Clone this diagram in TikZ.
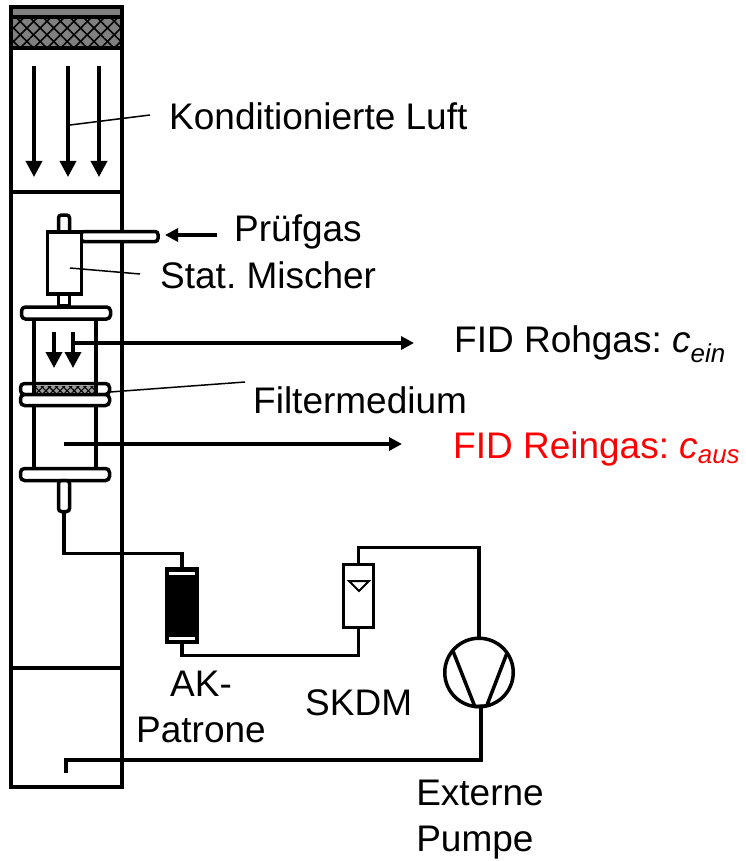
\documentclass[tikz,border=0pt]{standalone}
\usepackage{fontspec}
\setmainfont{Liberation Sans}
\usetikzlibrary{arrows.meta,patterns.meta}
\frenchspacing
\begin{document}
\begin{tikzpicture}[
    x=1pt, y=-1pt,
    wall/.style={draw, line width=4pt, inner sep=0pt, outer sep=0pt},
    part/.style={draw, line width=3.5pt, fill=white, inner sep=0pt, outer sep=0pt},
    flange/.style={part, rounded corners=4pt, minimum width=89pt},
    stub/.style={part, rounded corners=3pt, minimum width=11pt},
    coarsebed/.style={preaction={fill=gray}, preaction={pattern={Lines[angle=45,distance=9.5pt,line width=1.6pt]}}, pattern={Lines[angle=-45,distance=9.5pt,line width=1.6pt]}},
    finebed/.style={preaction={fill=gray!80}, preaction={pattern={Lines[angle=45,distance=5pt,line width=1.1pt]}}, pattern={Lines[angle=-45,distance=5pt,line width=1.1pt]}},
    pipe/.style={line width=3.5pt, line join=miter},
    leader/.style={line width=1.5pt},
    flow/.style={line width=3.5pt, -{Triangle[width=16pt,length=16pt]}},
    tap/.style={line width=3.5pt, -{Triangle[width=13pt,length=13pt]}},
    txt/.style={inner sep=0pt, font=\fontsize{37}{46}\selectfont}
]
\useasboundingbox (0,0) rectangle (745,861);

% Saeule
\node[wall, minimum width=111pt, minimum height=780pt] (column) at (66.5,397) {};
\node[wall, fill=gray, minimum width=111pt, minimum height=10pt] (lid) at (66.5,12) {};
\node[wall, coarsebed, minimum width=111pt, minimum height=31pt] (coarse) at (66.5,32.5) {};
\draw[wall] (column.west |- 0,192) -- (column.east |- 0,192);
\draw[wall] (column.west |- 0,668) -- (column.east |- 0,668);

% Luftstrom
\foreach \i/\x in {1/34,2/68,3/99} {
    \coordinate (air\i) at (\x,66);
    \coordinate (airend\i) at (\x,177);
    \draw[flow] (air\i) -- (airend\i);
}

% Mischer
\node[stub, minimum height=20pt] (mixtop) at (64,225) {};
\node[part, minimum width=77pt, minimum height=10pt, rounded corners=3pt] (feed) at (119.5,236.5) {};
\node[part, minimum width=34pt, minimum height=62pt] (mixer) at (64.5,263) {};
\node[part, minimum width=11pt, minimum height=12pt] (neck) at (64,300) {};

% Filterhalter
\draw[pipe] (34,320) -- (34,468) (96,320) -- (96,468);
\node[flange, minimum height=12pt] (flangetop) at (66,313) {};
\node[flange, minimum height=11pt] (flangeup) at (65,389) {};
\node[flange, minimum height=11pt] (flangelow) at (65,400) {};
\node[flange, minimum height=12pt] (flangeend) at (65,474.5) {};
\node[stub, minimum height=31pt] (outlet) at (64,496) {};
\node[inner sep=0pt, outer sep=0pt, finebed, minimum width=60pt, minimum height=7pt] (filter) at (65,389.5) {};
\draw[pipe] (34,383) -- (34,395) (96,383) -- (96,395);
\foreach \i/\x in {1/54,2/73} {
    \coordinate (gas\i) at (\x,332);
    \coordinate (gasend\i) at (\x,368);
    \draw[flow] (gas\i) -- (gasend\i);
}

% AK-Patrone, SKDM, Pumpe
\node[part, fill=black, minimum width=31pt, minimum height=74pt] (carbon) at (182,605.5) {};
\node[fill=white, inner sep=0pt, minimum width=26pt, minimum height=3pt] (carbontop) at (182,573) {};
\node[fill=white, inner sep=0pt, minimum width=26pt, minimum height=3pt] (carbonlow) at (182,638) {};
\node[part, minimum width=30pt, minimum height=63pt] (skdm) at (358.5,596) {};
\draw[line width=2pt, line join=miter] (349,581) -- (369,581) -- (359,591) -- cycle;
\node[draw, circle, line width=3.5pt, inner sep=0pt, outer sep=0pt, minimum size=68.5pt] (pump) at (479,672.5) {};
\draw[pipe] (pump.140) -- (pump.263);
\draw[pipe] (pump.35) -- (pump.283);
\draw[pipe] (pump.263) -- (pump.283);

% Leitungen
\coordinate (returnknee) at (66,760);
\coordinate (returnend) at (66,773);
\draw[pipe] (outlet.south) -- ++(0,42) -| (carbon.north);
\draw[pipe] (carbon.south) -- ++(0,13) -| (skdm.south);
\draw[pipe] (skdm.north) -- ++(0,-17) -| (pump.north);
\draw[pipe] ([xshift=2pt]pump.south) |- (returnknee) -- (returnend);

% Beschriftung
\node[txt, anchor=base west] (luft) at (169,130) {Konditionierte Luft};
\node[txt, anchor=base west] (pruefgas) at (234,241) {Prüfgas};
\node[txt, anchor=base west] (mischer) at (160,288) {Stat. Mischer};
\node[txt, anchor=base west] (rohgas) at (454,352) {FID Rohgas: \textit{c}\textsubscript{\textit{ein}}};
\node[txt, anchor=base west] (medium) at (253,413) {Filtermedium};
\node[txt, anchor=base west, red] (reingas) at (453,458) {FID Reingas: \textit{c}\textsubscript{\textit{aus}}};
\node[txt, align=center] (patrone) at (201,707) {AK-\\Patrone};
\node[txt, anchor=base west] (skdmtext) at (305,715) {SKDM};
\node[txt, align=left] (pumpe) at (480,820) {Externe\\Pumpe};

% Abgriffe und Hinweislinien
\coordinate (luftend) at (150,115);
\coordinate (luftstart) at (70,125);
\coordinate (mixstart) at (70,268);
\coordinate (mixend) at (140,274);
\coordinate (filterstart) at (110,392);
\coordinate (filterend) at (245,382);
\coordinate (feedstart) at (217,235);
\coordinate (feedend) at (165,235);
\coordinate (rawstart) at (75,343);
\coordinate (rawend) at (414,343);
\coordinate (cleanstart) at (64,444);
\coordinate (cleanend) at (402,444);
\draw[leader] (luftend) -- (luftstart);
\draw[leader] (mixstart) -- (mixend);
\draw[leader] (filterstart) -- (filterend);
\draw[tap] (feedstart) -- (feedend);
\draw[tap] (rawstart) -- (rawend);
\draw[tap] (cleanstart) -- (cleanend);

\end{tikzpicture}
\end{document}
